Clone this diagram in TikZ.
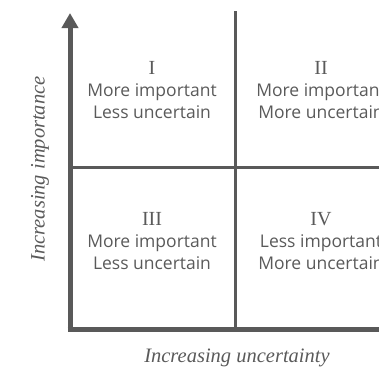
\documentclass[tikz,border=0pt]{standalone}
\usepackage{fontspec}
\setmainfont{Open Sans}
\newfontfamily\numfont{Liberation Serif}
\usetikzlibrary{arrows.meta,positioning}
\definecolor{axisgrey}{HTML}{595959}
\definecolor{textgrey}{HTML}{5A5A5A}

\begin{document}
\begin{tikzpicture}[
    x=1pt, y=1pt,
    axis/.style={line width=5pt, draw=axisgrey},
    divider/.style={line width=3pt, draw=axisgrey},
    quadrant/.style={align=center, text=textgrey, font=\fontsize{17.5}{22}\selectfont},
    axislabel/.style={text=textgrey, font=\numfont\itshape\fontsize{20.5}{22}\selectfont}
]
\useasboundingbox (0,0) rectangle (379,368);
\clip (0,0) rectangle (379,368);

% Axes
\coordinate (origin) at (70,39);
\coordinate (ytop) at (70,355);
\coordinate (xend) at (390,39);
\coordinate (vtop) at (235,357);
\coordinate (vbot) at (235,37);
\coordinate (hleft) at (70,201);
\coordinate (hright) at (390,201);

\draw[divider] (vbot) -- (vtop);
\draw[divider] (hleft) -- (hright);
\draw[axis] ([xshift=-2.5pt]origin) -- (xend);
\draw[axis, -{Triangle[width=16pt,length=15pt]}] ([yshift=-2.5pt]origin) -- (ytop);

% Quadrants
\node[quadrant] (q1) at (152,278) {{\numfont\fontsize{20}{22}\selectfont I}\\More important\\Less uncertain};
\node[quadrant] (q2) at (321,278) {{\numfont\fontsize{20}{22}\selectfont II}\\More important\\More uncertain};
\node[quadrant] (q3) at (152,127) {{\numfont\fontsize{20}{22}\selectfont III}\\More important\\Less uncertain};
\node[quadrant] (q4) at (321,127) {{\numfont\fontsize{20}{22}\selectfont IV}\\Less important\\More uncertain};

% Labels
\node[axislabel] (xlabel) at (237,10) {Increasing uncertainty};
\node[axislabel, rotate=90] (ylabel) at (40,199) {Increasing importance};

\end{tikzpicture}
\end{document}
